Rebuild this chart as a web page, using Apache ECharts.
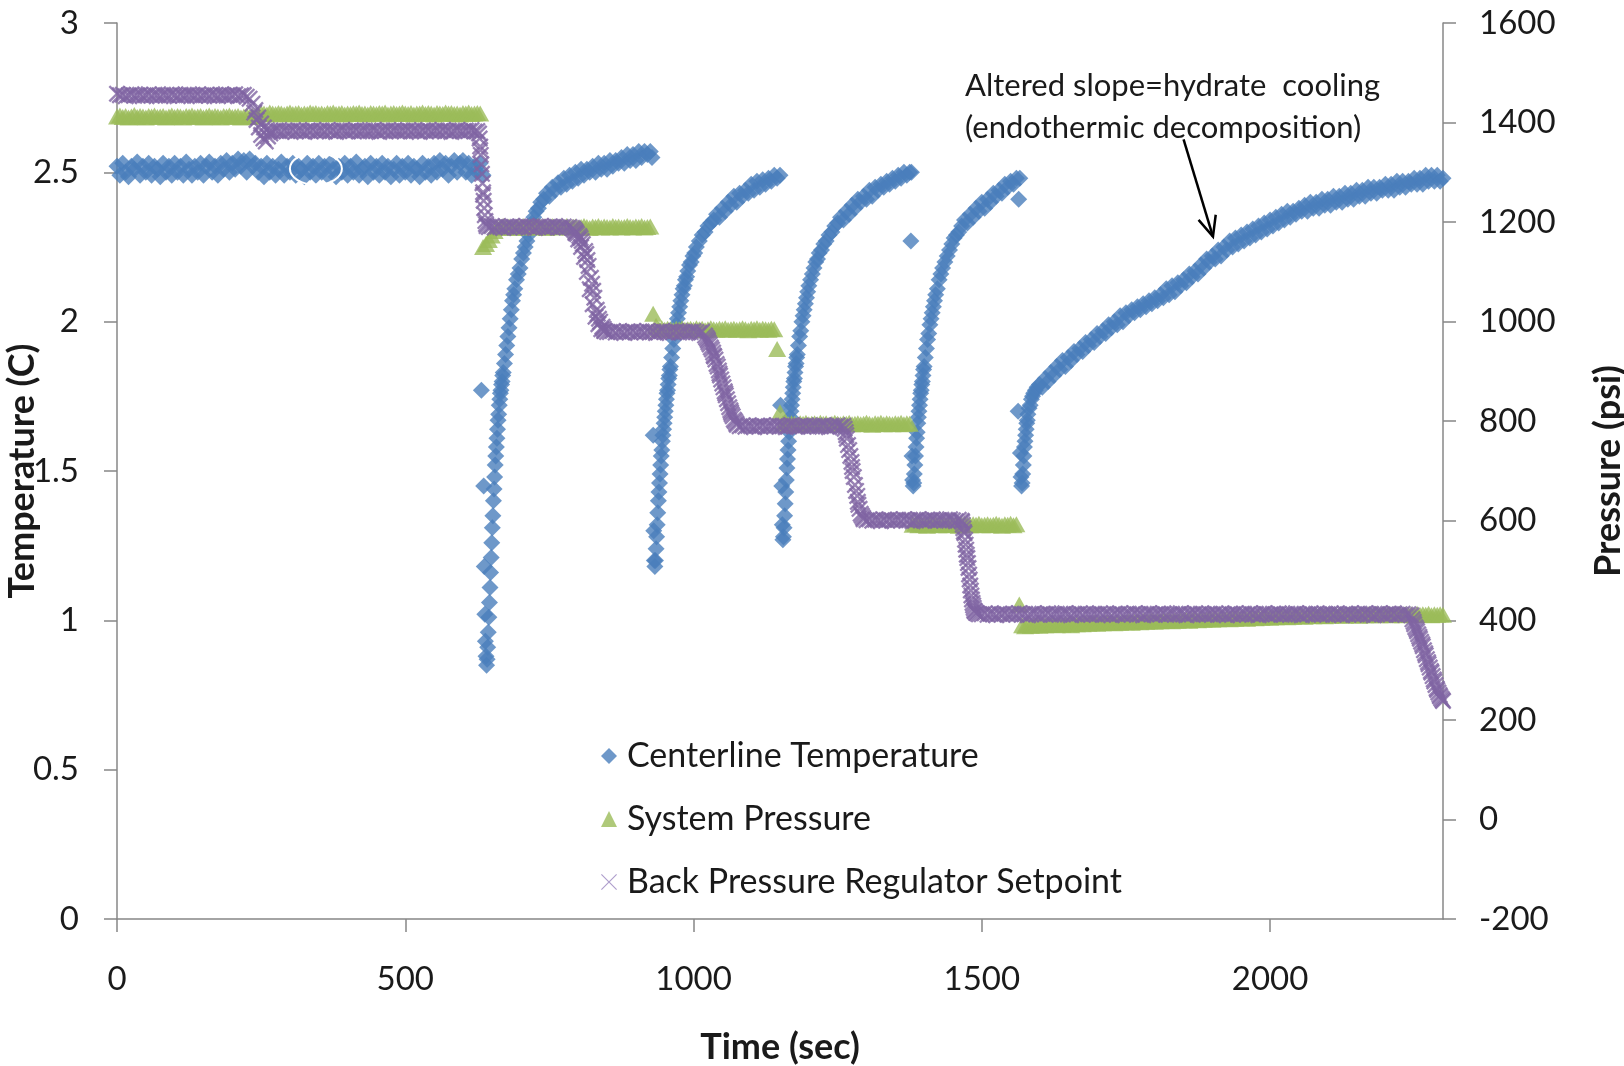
<!DOCTYPE html>
<html>
<head>
<meta charset="utf-8">
<script src="https://cdn.jsdelivr.net/npm/echarts@6.0.0/dist/echarts.min.js"></script>
<style>
html, body { margin: 0; padding: 0; background: #fff; }
#chart { width: 1624px; height: 1066px; }
</style>
</head>
<body>
<div id="chart"></div>
<script>
// Regular logging interval (s) for the evenly sampled stretches
const LOG_STEP = 5;

// Axis ticks
const timeTicks = [0, 500, 1000, 1500, 2000];
const tempTicks = [0, 0.5, 1, 1.5, 2, 2.5, 3];
const pressureTicks = [-200, 0, 200, 400, 600, 800, 1000, 1200, 1400, 1600];

// Centerline temperature (C), steady hold, t = 0 .. 635 s every LOG_STEP
const tempSteady = [
  2.52,2.49,2.53,2.50,2.485,2.52,2.51,2.535,2.49,2.52,
  2.50,2.53,2.49,2.52,2.51,2.485,2.53,2.50,2.52,2.49,
  2.53,2.50,2.52,2.49,2.535,2.51,2.49,2.52,2.50,2.53,
  2.49,2.52,2.535,2.50,2.52,2.49,2.53,2.51,2.54,2.50,
  2.53,2.51,2.545,2.52,2.54,2.50,2.545,2.52,2.53,2.50,
  2.52,2.485,2.53,2.50,2.52,2.49,2.51,2.535,2.49,2.52,
  2.50,2.53,2.49,2.52,2.51,2.485,2.53,2.50,2.52,2.49,
  2.53,2.50,2.52,2.49,2.53,2.51,2.485,2.52,2.50,2.53,
  2.49,2.52,2.50,2.535,2.49,2.51,2.52,2.485,2.53,2.50,
  2.52,2.49,2.53,2.50,2.52,2.485,2.51,2.53,2.49,2.52,
  2.50,2.53,2.49,2.52,2.51,2.485,2.53,2.50,2.52,2.49,
  2.53,2.50,2.54,2.51,2.53,2.49,2.52,2.54,2.50,2.53,
  2.54,2.50,2.53,2.49,2.52,2.50,2.53,2.49
];

// Centerline temperature (C) through the depressurisation steps, [t (s), T]
const tempDip1 = [
  [632,1.77],[636,1.45],[637,1.18],[638,1.02],[639,0.93],[640,0.88],[641,0.85],[642,0.87],[643,0.91],
  [644,0.96],[645,1.01],[646,1.06],[647,1.11],[648,1.16],[649,1.21],[650,1.26],[651,1.31],[652,1.35],[653,1.40],
  [654,1.44],[655,1.48],[656,1.52],[657,1.55],[658,1.58],[659,1.61],[660,1.64],[661,1.67],[662,1.69],[663,1.72],
  [664,1.74],[665,1.76],[666,1.77],[667,1.79],[668,1.80],[669,1.82],[670,1.83],[672,1.86],[674,1.89],[676,1.92],
  [678,1.95],[680,1.98],[682,2.01],[684,2.04],[686,2.07],[688,2.09],[690,2.11],[693,2.14],[696,2.16],[699,2.18],
  [702,2.21],[705,2.23],[708,2.25],[711,2.27],[714,2.29],[717,2.31],[720,2.33],[723,2.35],[727,2.37],[731,2.38],
  [735,2.40],[740,2.41],[745,2.43],[750,2.42],[755,2.45],[760,2.44],[765,2.465],[770,2.45],[775,2.48],[780,2.46],
  [785,2.49],[790,2.47],[795,2.50],[800,2.48],[805,2.51],[810,2.49],[815,2.51],[820,2.50],[825,2.52],[830,2.50],
  [835,2.53],[840,2.51],[845,2.53],[850,2.51],[855,2.54],[860,2.52],[865,2.54],[870,2.53],[875,2.55],[880,2.53],
  [885,2.56],[890,2.54],[895,2.56],[900,2.54],[905,2.57],[910,2.55],[915,2.57],[920,2.56],[925,2.57],[928,2.55]
];
const tempDip2 = [
  [930,1.62],[931,1.30],[932,1.20],[933,1.18],[934,1.20],[935,1.24],[936,1.28],[937,1.32],[938,1.36],[939,1.40],
  [940,1.43],[941,1.46],[942,1.49],[943,1.52],[944,1.55],[945,1.57],[946,1.60],[947,1.62],[948,1.64],[949,1.66],
  [950,1.68],[951,1.70],[952,1.72],[953,1.74],[954,1.76],[955,1.77],[956,1.79],[957,1.81],[958,1.82],[959,1.84],
  [960,1.85],[962,1.88],[964,1.91],[966,1.94],[968,1.96],[970,1.99],[972,2.01],[974,2.03],[976,2.05],[978,2.07],
  [980,2.09],[982,2.11],[984,2.12],[986,2.14],[988,2.15],[990,2.17],[993,2.19],[996,2.20],[999,2.22],[1002,2.23],
  [1005,2.25],[1010,2.27],[1015,2.29],[1020,2.30],[1025,2.32],[1030,2.33],[1035,2.34],[1040,2.36],[1045,2.35],[1050,2.38],
  [1055,2.37],[1060,2.40],[1065,2.39],[1070,2.42],[1075,2.40],[1080,2.43],[1085,2.42],[1090,2.44],[1095,2.43],[1100,2.46],
  [1105,2.44],[1110,2.47],[1115,2.45],[1120,2.475],[1125,2.46],[1130,2.48],[1135,2.47],[1140,2.49],[1145,2.48],[1150,2.49]
];
const tempDip3 = [
  [1151,1.72],[1153,1.45],[1154,1.32],[1155,1.27],[1156,1.28],[1157,1.31],[1158,1.35],[1159,1.39],[1160,1.43],[1161,1.47],
  [1162,1.51],[1163,1.54],[1164,1.57],[1165,1.60],[1166,1.63],[1167,1.65],[1168,1.68],[1169,1.70],[1170,1.72],[1171,1.74],
  [1172,1.76],[1173,1.78],[1174,1.80],[1175,1.81],[1176,1.83],[1177,1.85],[1178,1.86],[1179,1.88],[1180,1.89],[1182,1.92],
  [1184,1.95],[1186,1.97],[1188,2.00],[1190,2.02],[1192,2.04],[1194,2.06],[1196,2.08],[1198,2.10],[1200,2.12],[1203,2.14],
  [1206,2.16],[1209,2.18],[1212,2.20],[1215,2.21],[1218,2.23],[1222,2.24],[1226,2.26],[1230,2.27],[1235,2.29],[1240,2.30],
  [1245,2.32],[1250,2.33],[1255,2.35],[1260,2.34],[1265,2.37],[1270,2.36],[1275,2.39],[1280,2.38],[1285,2.41],[1290,2.40],
  [1295,2.42],[1300,2.41],[1305,2.44],[1310,2.42],[1315,2.45],[1320,2.44],[1325,2.46],[1330,2.45],[1335,2.47],[1340,2.46],
  [1345,2.48],[1350,2.47],[1355,2.49],[1360,2.48],[1365,2.50],[1370,2.49],[1375,2.50],[1377,2.27],[1378,2.50]
];
const tempDip4 = [
  [1379,1.55],[1380,1.47],[1381,1.45],[1382,1.46],[1383,1.49],[1384,1.52],[1385,1.55],[1386,1.58],[1387,1.61],[1388,1.63],
  [1389,1.66],[1390,1.68],[1391,1.70],[1392,1.72],[1393,1.74],[1394,1.76],[1395,1.77],[1396,1.79],[1397,1.80],[1398,1.82],
  [1399,1.84],[1400,1.85],[1402,1.88],[1404,1.91],[1406,1.94],[1408,1.96],[1410,1.99],[1412,2.01],[1414,2.03],[1416,2.05],
  [1418,2.07],[1420,2.09],[1423,2.11],[1426,2.14],[1429,2.16],[1432,2.18],[1436,2.20],[1440,2.22],[1444,2.24],[1448,2.26],
  [1452,2.28],[1456,2.29],[1460,2.30],[1465,2.32],[1470,2.34],[1475,2.33],[1480,2.36],[1485,2.35],[1490,2.38],[1495,2.37],
  [1500,2.40],[1505,2.38],[1510,2.41],[1515,2.40],[1520,2.43],[1525,2.42],[1530,2.44],[1535,2.43],[1540,2.46],[1545,2.45],
  [1550,2.47],[1555,2.46],[1560,2.48],[1564,2.41],[1566,2.48]
];
const tempDip5 = [
  [1563,1.70],[1567,1.56],[1568,1.48],[1569,1.45],[1570,1.46],[1571,1.49],[1572,1.52],[1573,1.55],[1574,1.58],[1575,1.60],
  [1576,1.62],[1577,1.64],[1578,1.66],[1579,1.67],[1580,1.69],[1582,1.71],[1584,1.72],[1586,1.74],[1588,1.75],[1590,1.76],
  [1593,1.77],[1596,1.78],[1600,1.79],[1605,1.78],[1610,1.81],[1615,1.80],[1620,1.83],[1625,1.82],[1630,1.85],[1635,1.84],
  [1640,1.87],[1645,1.85],[1650,1.88],[1655,1.87],[1660,1.90],[1665,1.89],[1670,1.91],[1675,1.90],[1680,1.93],[1685,1.92],
  [1690,1.94],[1695,1.93],[1700,1.96],[1705,1.95],[1710,1.97],[1715,1.96],[1720,1.99],[1725,1.98],[1730,2.00],[1735,1.99],
  [1740,2.02],[1745,2.00],[1750,2.03],[1755,2.02],[1760,2.04],[1765,2.03],[1770,2.05],[1775,2.04],[1780,2.06],[1785,2.05],
  [1790,2.07],[1795,2.06],[1800,2.08],[1805,2.07],[1810,2.09],[1815,2.08],[1820,2.11],[1825,2.09],[1830,2.12],[1835,2.10],
  [1840,2.13],[1845,2.12],[1850,2.14],[1855,2.13],[1860,2.16],[1865,2.15],[1870,2.17],[1875,2.16],[1880,2.19],[1885,2.18],
  [1890,2.21],[1895,2.20],[1900,2.22],[1905,2.21],[1910,2.24],[1915,2.22],[1920,2.25],[1925,2.24],[1930,2.27],[1935,2.25],
  [1940,2.28],[1945,2.26],[1950,2.29],[1955,2.27],[1960,2.30],[1965,2.28],[1970,2.31],[1975,2.29],[1980,2.32],[1985,2.30],
  [1990,2.33],[1995,2.31],[2000,2.34],[2005,2.32],[2010,2.35],[2015,2.33],[2020,2.36],[2025,2.34],[2030,2.37],[2035,2.35],
  [2040,2.37],[2045,2.36],[2050,2.38],[2055,2.37],[2060,2.39],[2065,2.37],[2070,2.40],[2075,2.38],[2080,2.40],[2085,2.38],
  [2090,2.41],[2095,2.39],[2100,2.41],[2105,2.39],[2110,2.42],[2115,2.40],[2120,2.42],[2125,2.40],[2130,2.43],[2135,2.41],
  [2140,2.43],[2145,2.41],[2150,2.44],[2155,2.42],[2160,2.44],[2165,2.42],[2170,2.45],[2175,2.43],[2180,2.45],[2185,2.43],
  [2190,2.45],[2195,2.44],[2200,2.46],[2205,2.44],[2210,2.46],[2215,2.44],[2220,2.47],[2225,2.45],[2230,2.47],[2235,2.45],
  [2240,2.47],[2245,2.46],[2250,2.48],[2255,2.46],[2260,2.48],[2265,2.46],[2270,2.49],[2275,2.47],[2280,2.49],[2285,2.47],
  [2290,2.49],[2295,2.47],[2300,2.48]
];

// System pressure (psi), t = 0 .. 2300 s every LOG_STEP
const systemPressure = [
  1412,1414,1411,1413,1410,1412,1415,1411,1413,1412,
  1410,1413,1412,1414,1411,1412,1413,1410,1412,1414,
  1411,1413,1412,1410,1413,1412,1414,1411,1412,1413,
  1410,1412,1414,1411,1413,1412,1410,1413,1412,1414,
  1411,1412,1413,1410,1412,1414,1411,1413,1412,
  1417,1419,1418,1416,1420,1418,1417,1419,1418,1416,
  1418,1420,1417,1418,1419,1416,1418,1417,1420,1418,
  1419,1417,1418,1416,1419,1418,1420,1417,1418,1419,
  1416,1418,1417,1419,1418,1420,1417,1418,1416,1419,
  1418,1417,1419,1418,1420,1416,1418,1419,1417,1418,
  1420,1418,1417,1419,1416,1418,1418,1420,1417,1419,
  1418,1416,1419,1418,1417,1420,1418,1419,1417,1418,
  1416,1419,1418,1420,1417,1418,1419,1418,
  1150,1156,1164,1173,1182,1188,
  1190,1192,1189,1191,1190,1188,1191,1190,1192,1189,
  1190,1191,1189,1192,1190,1191,1188,1190,1192,1190,
  1189,1191,1190,1192,1189,1190,1191,1189,1190,1192,
  1190,1188,1191,1190,1192,1189,1191,1190,1189,1192,
  1190,1191,1189,1190,1192,1190,1189,1191,1190,1192,
  1189,1190,1191,
  1016,992,
  985,987,984,986,985,983,986,985,987,984,
  985,986,984,987,985,986,983,985,987,985,
  984,986,985,987,984,985,986,984,985,987,
  985,983,986,985,987,984,986,985,984,986,
  985,
  945,
  818,
  795,797,794,796,795,793,796,795,797,794,
  795,796,794,797,795,796,793,795,797,795,
  794,796,795,797,794,795,796,794,795,797,
  795,793,796,795,797,794,796,795,794,796,
  795,797,794,796,795,
  592,594,591,593,592,590,593,592,594,591,
  592,593,591,594,592,593,590,592,594,592,
  591,593,592,594,591,592,593,591,592,594,
  592,590,593,592,594,591,593,
  432,
  390,388,391,389,390,392,389,391,390,392,
  391,393,390,392,391,393,392,390,393,392,
  394,392,395,393,394,396,393,395,394,396,
  395,397,394,396,395,397,396,398,395,397,
  398,396,399,397,398,400,397,399,398,400,
  399,401,398,400,399,401,400,402,399,401,
  402,400,403,401,402,404,401,403,402,404,
  403,405,402,404,403,405,404,406,403,405,
  406,404,407,405,406,408,405,407,406,408,
  407,409,406,408,407,409,408,410,407,409,
  409,408,410,409,411,408,410,409,411,410,
  410,412,409,411,410,412,411,409,411,410,
  412,410,411,413,410,412,411,413,410,412,
  411,413,410,412,411,412,410,413,411,412,
  411,413,410,412,411,412,411
];

// Back pressure regulator setpoint (psi), t = 0 .. 2300 s every LOG_STEP
const bprSetpoint = [
  1458,1455,1456,1453,1455,1457,1454,1455,1456,1453,
  1455,1457,1454,1456,1455,1453,1456,1455,1454,1457,
  1455,1453,1456,1454,1455,1457,1455,1454,1456,1453,
  1455,1456,1454,1457,1455,1453,1456,1455,1454,1456,
  1455,1457,1453,1455,1456,1452,1448,1438,1425,
  1410,1398,1390,1385,1383,1382,1384,1383,1381,1384,1383,
  1383,1385,1382,1384,1383,1381,1384,1383,1385,1382,
  1383,1384,1382,1385,1383,1384,1381,1383,1385,1383,
  1382,1384,1383,1385,1382,1383,1384,1382,1383,1385,
  1383,1381,1384,1383,1385,1382,1384,1383,1382,1384,
  1383,1385,1382,1384,1383,1381,1384,1383,1385,1382,
  1383,1384,1382,1385,1383,1384,1381,1383,1385,1383,
  1382,1384,1383,1385,1382,1383,
  1345,1255,1196,
  1190,1192,1189,1191,1190,1188,1191,1190,1192,1189,
  1190,1191,1189,1192,1190,1191,1188,1190,1192,1190,
  1189,1191,1190,1192,1189,1190,1191,1189,1190,
  1188,1178,1165,1150,1130,1100,1065,1035,1010,995,985,981,979,
  979,981,978,980,979,977,980,979,981,978,
  979,980,978,981,979,980,977,979,981,979,
  978,980,979,981,978,979,980,978,979,981,
  979,977,980,
  972,962,948,932,915,896,876,856,836,818,803,793,
  790,792,789,791,790,788,791,790,792,789,
  790,791,789,792,790,791,788,790,792,790,
  789,791,790,792,789,790,791,789,790,792,
  790,788,791,790,792,789,791,
  772,742,708,672,638,614,603,
  601,603,600,602,601,599,602,601,603,600,
  601,602,600,603,601,602,599,601,603,601,
  600,602,601,603,600,601,602,600,601,603,
  601,599,602,600,
  575,525,470,430,415,412,
  412,414,411,413,412,410,413,412,414,411,
  412,413,411,414,412,413,410,412,414,412,
  411,413,412,414,411,412,413,411,412,414,
  412,410,413,412,414,411,413,412,411,413,
  412,414,411,413,412,410,413,412,414,411,
  412,413,411,414,412,413,410,412,414,412,
  411,413,412,414,411,412,413,411,412,414,
  412,410,413,412,414,411,413,412,411,413,
  412,414,411,413,412,410,413,412,414,411,
  412,413,411,414,412,413,410,412,414,412,
  411,413,412,414,411,412,413,411,412,414,
  412,410,413,412,414,411,413,412,411,413,
  412,414,411,413,412,410,413,412,414,411,
  412,413,411,414,412,413,410,412,414,412,
  411,413,412,414,411,412,413,411,412,410,
  392,378,363,348,330,312,295,277,260,247,238
];

// Setpoint changes logged at 1-2 s, [t (s), P]
const bprRamps = [
  [238,1420],[242,1405],[246,1390],[250,1375],[254,1368],[258,1362],[262,1372],[266,1378],
  [628,1378],[629,1368],[630,1352],[631,1335],[632,1316],[633,1297],[634,1278],[635,1260],[636,1243],[637,1228],
  [638,1214],[639,1202],[641,1192],
  [792,1186],[794,1183],[796,1180],[798,1176],[802,1172],[804,1168],[806,1162],[808,1156],[812,1142],[814,1136],
  [816,1124],[818,1112],[822,1088],[824,1076],[826,1062],[828,1048],[832,1024],[834,1016],[836,1006],[838,1000],
  [842,990],[844,986],[846,982],
  [1022,968],[1024,965],[1026,958],[1028,954],[1032,944],[1034,938],[1036,930],[1038,924],[1042,910],[1044,902],
  [1046,892],[1048,884],[1052,868],[1054,860],[1056,852],[1058,844],[1062,828],[1064,822],[1066,814],[1068,810],
  [1072,800],[1074,796],
  [1262,785],[1264,778],[1266,765],[1268,752],[1272,730],[1274,718],[1276,700],[1278,688],[1282,660],[1284,650],
  [1286,632],[1288,624],[1292,610],[1294,606],
  [1466,598],[1467,592],[1468,585],[1469,578],[1471,562],[1472,552],[1473,542],[1474,532],[1476,515],[1477,505],
  [1478,492],[1479,482],[1481,460],[1482,450],[1483,442],[1484,435],[1486,425],[1487,420],[1488,418],[1492,414],
  [2247,402],[2249,397],[2252,386],[2254,382],[2257,372],[2259,367],[2262,357],[2264,352],[2267,340],[2269,334],
  [2272,322],[2274,316],[2277,305],[2279,298],[2282,288],[2284,281],[2287,270],[2289,263],[2292,255],[2294,250],
  [2297,243],[2299,240]
];

// Annotation anchor points in data space [t, T]
const arrowTail = [1850, 2.61];
const arrowHead = [1901, 2.285];
const markedPoint = [345, 2.512];

const FONT = 'Lato';
const TEXT = '#1a1a1a';
const AXIS = '#878787';
const X_MARK = 'path://M0,2L2,0L10,8L18,0L20,2L12,10L20,18L18,20L10,12L2,20L0,18L8,10Z';
const X_MARK_THIN = 'path://M0,1L1,0L10,9L19,0L20,1L11,10L20,19L19,20L10,11L1,20L0,19L9,10Z';

const stamp = (vals) => vals.map((v, i) => [i * LOG_STEP, v]);

const tempData = stamp(tempSteady).concat(tempDip1, tempDip2, tempDip3, tempDip4, tempDip5);
const sysData = stamp(systemPressure);
const bprData = stamp(bprSetpoint).concat(bprRamps);

const chart = echarts.init(document.getElementById('chart'), null, { renderer: 'canvas' });

const plain = (v) => String(v);
const axisCommon = {
  type: 'value',
  splitLine: { show: false },
  axisLine: { show: true, onZero: false, lineStyle: { color: AXIS, width: 1.5 } },
  axisTick: { show: true, inside: false, length: 13, lineStyle: { color: AXIS, width: 1.5 } },
  nameMoveOverlap: false
};
const titleStyle = { fontFamily: FONT, fontSize: 36, fontWeight: 'bold', color: TEXT };

chart.setOption({
  animation: false,
  backgroundColor: '#ffffff',
  grid: { left: 117, right: 181, top: 23, bottom: 147, outerBoundsMode: 'none', containLabel: false },
  xAxis: Object.assign({}, axisCommon, {
    min: 0, max: 2300, interval: 500,
    axisTick: Object.assign({}, axisCommon.axisTick, { customValues: timeTicks }),
    axisLabel: { customValues: timeTicks, formatter: plain, margin: 44, fontFamily: FONT, fontSize: 33, color: TEXT },
    name: 'Time (sec)', nameLocation: 'middle', nameGap: 110, nameTextStyle: titleStyle
  }),
  yAxis: [
    Object.assign({}, axisCommon, {
      position: 'left', min: 0, max: 3, interval: 0.5,
      axisTick: Object.assign({}, axisCommon.axisTick, { customValues: tempTicks }),
      axisLabel: { customValues: tempTicks, formatter: plain, margin: 38, fontFamily: FONT, fontSize: 33, color: TEXT },
      name: 'Temperature (C)', nameLocation: 'middle', nameRotate: 90, nameGap: 77, nameTextStyle: titleStyle
    }),
    Object.assign({}, axisCommon, {
      position: 'right', min: -200, max: 1600, interval: 200,
      axisTick: Object.assign({}, axisCommon.axisTick, { customValues: pressureTicks }),
      axisLabel: { customValues: pressureTicks, formatter: plain, margin: 36, fontFamily: FONT, fontSize: 33, color: TEXT },
      name: 'Pressure (psi)', nameLocation: 'middle', nameRotate: 90, nameGap: 147, nameTextStyle: titleStyle
    })
  ],
  legend: {
    orient: 'vertical', left: 596, top: 734,
    itemWidth: 16, itemHeight: 16, itemGap: 29,
    selectedMode: false,
    textStyle: { fontFamily: FONT, fontSize: 34, lineHeight: 30, color: TEXT, padding: [0, 0, 0, 5] },
    data: [
      { name: 'Centerline Temperature', icon: 'diamond' },
      { name: 'System Pressure', icon: 'triangle' },
      { name: 'Back Pressure Regulator Setpoint', icon: X_MARK_THIN, itemStyle: { color: '#9a86c0' } }
    ]
  },
  series: [
    {
      name: 'Centerline Temperature', type: 'scatter', yAxisIndex: 0,
      symbol: 'diamond', symbolSize: [17, 17], clip: false, silent: true, progressive: 0,
      itemStyle: { color: '#4A7EBB' }, z: 2,
      data: tempData
    },
    {
      name: 'System Pressure', type: 'scatter', yAxisIndex: 1,
      symbol: 'triangle', symbolSize: [18, 16], clip: false, silent: true, progressive: 0,
      itemStyle: { color: '#9BBB59' }, z: 3,
      data: sysData
    },
    {
      name: 'Back Pressure Regulator Setpoint', type: 'scatter', yAxisIndex: 1,
      symbol: X_MARK, symbolSize: 17, clip: false, silent: true, progressive: 0,
      itemStyle: { color: '#8064A2' }, z: 4,
      data: bprData
    }
  ]
});

// Annotation: arrow pointing at the change of slope, plus the marked point ring
const toPx = (p) => chart.convertToPixel({ xAxisIndex: 0, yAxisIndex: 0 }, p);
const tail = toPx(arrowTail);
const head = toPx(arrowHead);
const ang = Math.atan2(head[1] - tail[1], head[0] - tail[0]);
const armLen = 22, spread = 0.42;
const arm1 = [head[0] - armLen * Math.cos(ang - spread), head[1] - armLen * Math.sin(ang - spread)];
const arm2 = [head[0] - armLen * Math.cos(ang + spread), head[1] - armLen * Math.sin(ang + spread)];
const ring = toPx(markedPoint);

chart.setOption({
  graphic: [
    { type: 'line', z: 100, shape: { x1: tail[0], y1: tail[1], x2: head[0], y2: head[1] },
      style: { stroke: '#000', lineWidth: 2.5 } },
    { type: 'polyline', z: 100, shape: { points: [arm1, head, arm2] },
      style: { stroke: '#000', lineWidth: 2.5, fill: null } },
    { type: 'ellipse', z: 100, shape: { cx: ring[0], cy: ring[1], rx: 26, ry: 16 },
      style: { stroke: '#ffffff', lineWidth: 2, fill: null } },
    { type: 'text', z: 100, x: 965, y: 86,
      style: { text: 'Altered slope=hydrate  cooling', fontFamily: FONT, fontSize: 31, fill: TEXT, verticalAlign: 'middle' } },
    { type: 'text', z: 100, x: 965, y: 128,
      style: { text: '(endothermic decomposition)', fontFamily: FONT, fontSize: 31, fill: TEXT, verticalAlign: 'middle' } }
  ]
});
</script>
</body>
</html>
